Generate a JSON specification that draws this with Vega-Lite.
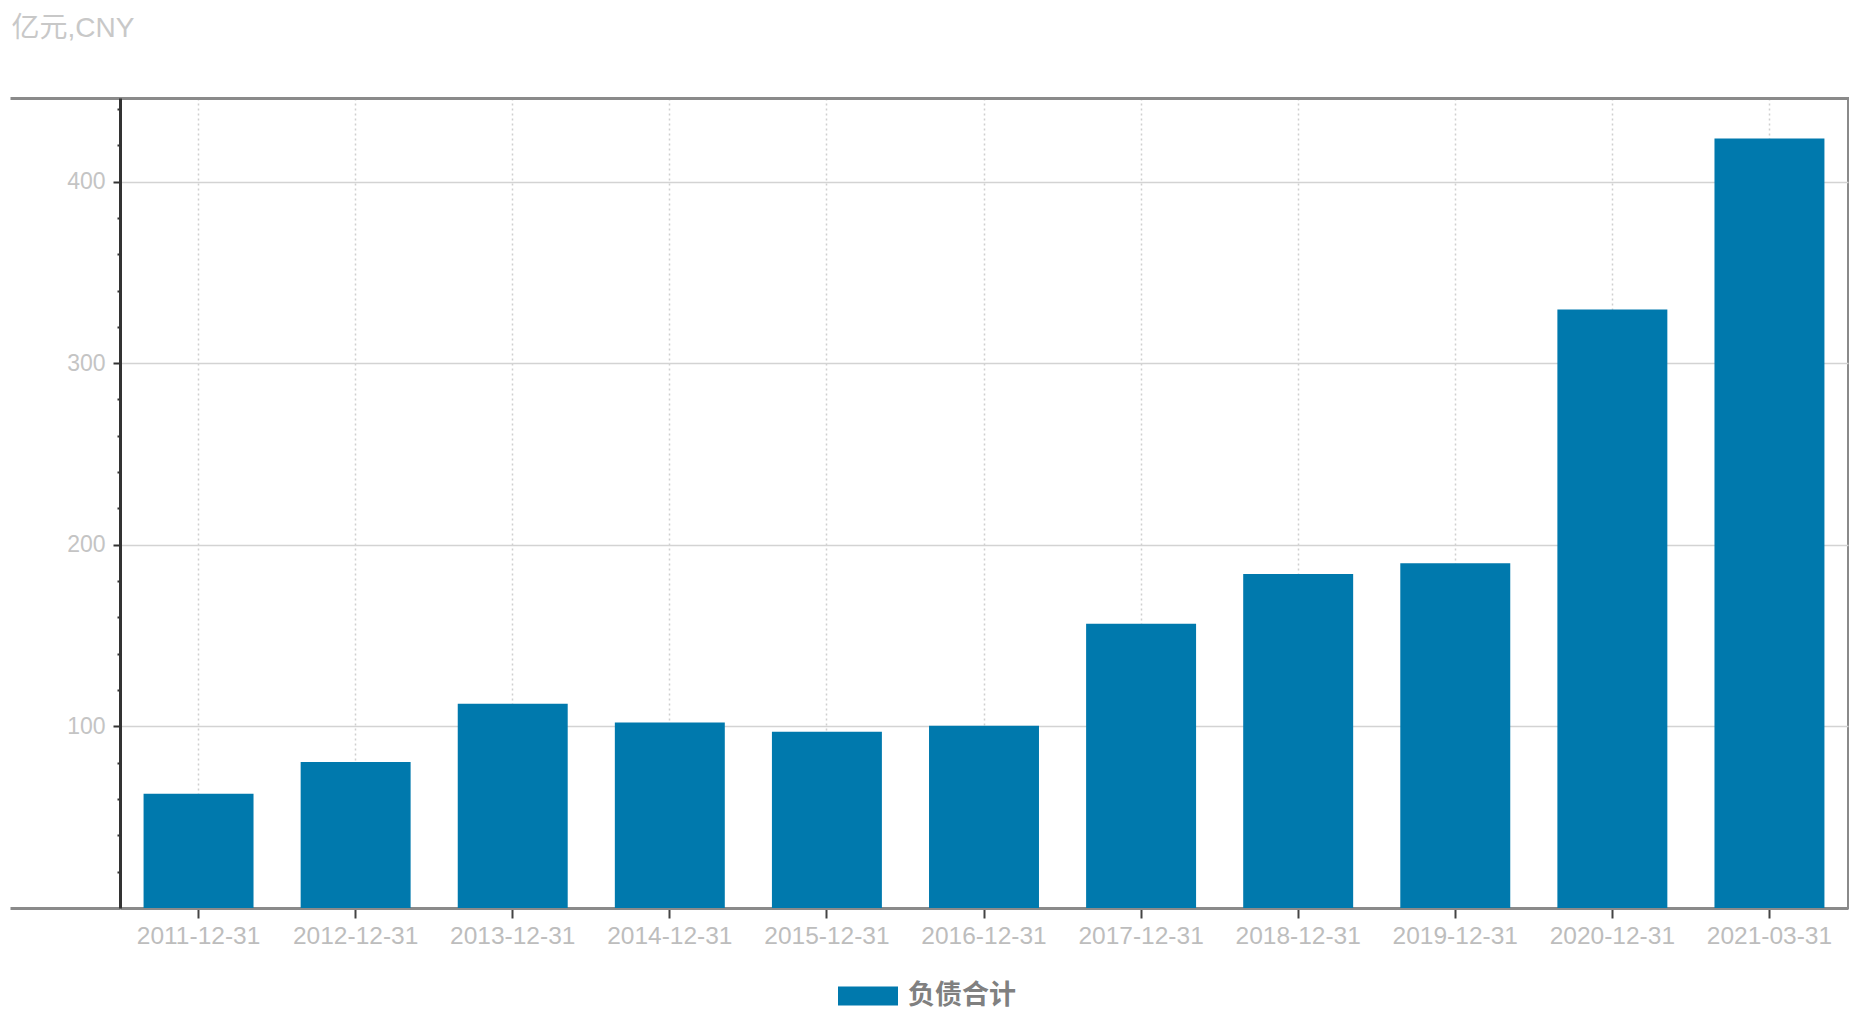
{
  "$schema": "https://vega.github.io/schema/vega-lite/v6.json",
  "width": 1728,
  "height": 810,
  "padding": {"left": 8, "top": 14, "right": 20, "bottom": 5},
  "background": "#ffffff",
  "title": {
    "text": "亿元,CNY",
    "anchor": "start",
    "frame": "bounds",
    "fontSize": 28,
    "fontWeight": "normal",
    "font": "Liberation Sans, Noto Sans CJK SC",
    "color": "#c8c8c8",
    "dx": 3,
    "offset": 54
  },
  "data": {
    "values": [
      {"date": "2011-12-31", "value": 62.9, "series": "负债合计"},
      {"date": "2012-12-31", "value": 80.4, "series": "负债合计"},
      {"date": "2013-12-31", "value": 112.5, "series": "负债合计"},
      {"date": "2014-12-31", "value": 102.2, "series": "负债合计"},
      {"date": "2015-12-31", "value": 97.1, "series": "负债合计"},
      {"date": "2016-12-31", "value": 100.4, "series": "负债合计"},
      {"date": "2017-12-31", "value": 156.5, "series": "负债合计"},
      {"date": "2018-12-31", "value": 183.9, "series": "负债合计"},
      {"date": "2019-12-31", "value": 189.8, "series": "负债合计"},
      {"date": "2020-12-31", "value": 329.5, "series": "负债合计"},
      {"date": "2021-03-31", "value": 423.7, "series": "负债合计"}
    ]
  },
  "mark": {"type": "bar"},
  "encoding": {
    "x": {
      "field": "date",
      "type": "nominal",
      "sort": null,
      "scale": {"paddingInner": 0.3, "paddingOuter": 0.15},
      "axis": {
        "title": null,
        "labelAngle": 0,
        "labelFontSize": 24.5,
        "labelFont": "Liberation Sans",
        "labelColor": "#bdbdbd",
        "labelPadding": 6,
        "tickSize": 10,
        "tickWidth": 2,
        "tickColor": "#444444",
        "domainColor": "#8a8a8a",
        "domainWidth": 3,
        "grid": true,
        "gridColor": "#cfcfcf",
        "gridWidth": 1.5,
        "gridDash": [2, 3]
      }
    },
    "y": {
      "field": "value",
      "type": "quantitative",
      "scale": {"domain": [0, 446], "nice": false},
      "axis": {
        "title": null,
        "values": [0, 20, 40, 60, 80, 100, 120, 140, 160, 180, 200, 220, 240, 260, 280, 300, 320, 340, 360, 380, 400, 420, 440, 446],
        "labelExpr": "datum.value > 0 && datum.value % 100 == 0 ? datum.label : ''",
        "labelFontSize": 23,
        "labelFont": "Liberation Sans",
        "labelColor": "#c4c4c4",
        "labelPadding": -95,
        "domainColor": "#333333",
        "domainWidth": 3,
        "tickSize": 110,
        "tickDash": {
          "condition": [
            {"test": "datum.value == 0 || datum.value == 446", "value": [300, 1]},
            {"test": "datum.value % 100 == 0", "value": [7, 300]}
          ],
          "value": [3, 300]
        },
        "tickColor": {"condition": {"test": "datum.value == 0 || datum.value == 446", "value": "#8a8a8a"}, "value": "#333333"},
        "tickWidth": {"condition": {"test": "datum.value == 0 || datum.value == 446", "value": 3}, "value": 2},
        "grid": true,
        "gridColor": {"condition": {"test": "datum.value == 446", "value": "#8a8a8a"}, "value": "#d3d3d3"},
        "gridOpacity": {"condition": {"test": "datum.value == 446 || (datum.value > 0 && datum.value % 100 == 0)", "value": 1}, "value": 0},
        "gridWidth": {"condition": {"test": "datum.value == 446", "value": 3}, "value": 1.5}
      }
    },
    "color": {
      "field": "series",
      "type": "nominal",
      "scale": {"range": ["#0079ad"]},
      "legend": {
        "title": null,
        "orient": "none",
        "legendX": 718,
        "legendY": 868,
        "direction": "horizontal",
        "padding": 0,
        "symbolType": "M-1,-0.3167L1,-0.3167L1,0.3167L-1,0.3167Z",
        "symbolSize": 3600,
        "symbolStrokeWidth": 0,
        "labelFontSize": 27,
        "labelFont": "Noto Sans CJK SC",
        "labelFontWeight": "bold",
        "labelColor": "#808080",
        "labelOffset": 10
      }
    }
  },
  "config": {
    "view": {"stroke": "#8a8a8a", "strokeWidth": 2}
  }
}
